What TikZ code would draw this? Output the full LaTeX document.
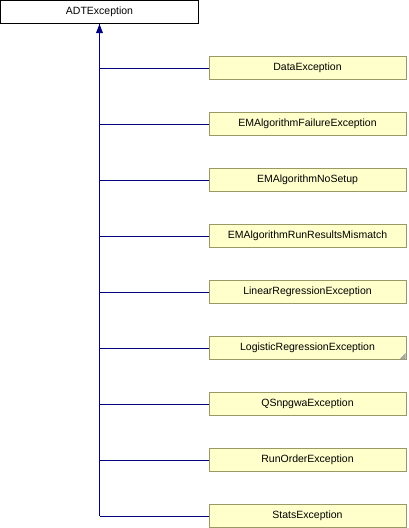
\documentclass[tikz,border=0pt]{standalone}
\usepackage{fontspec}
\setmainfont{Liberation Sans}
\definecolor{boxborder}{RGB}{153,153,102}
\definecolor{boxfill}{RGB}{255,255,204}
\definecolor{connblue}{RGB}{0,0,128}
\begin{document}
\begin{tikzpicture}[x=1pt,y=-1pt,
  parentbox/.style={draw=black,line width=1pt,fill=white,minimum width=198pt,minimum height=23pt,inner sep=0pt,font=\fontsize{10.5}{12}\selectfont},
  childbox/.style={draw=boxborder,line width=1pt,fill=boxfill,minimum width=197pt,minimum height=23pt,inner sep=0pt,font=\fontsize{10.5}{12}\selectfont},
  conn/.style={draw=connblue,line width=0.9pt}]
\useasboundingbox (0,0) rectangle (408,528);
\node[parentbox] (p) at (99.5,12) {ADTException};
\foreach \n/\t [count=\i from 0] in {c1/DataException,c2/EMAlgorithmFailureException,c3/EMAlgorithmNoSetup,c4/EMAlgorithmRunResultsMismatch,c5/LinearRegressionException,c6/LogisticRegressionException,c7/QSnpgwaException,c8/RunOrderException,c9/StatsException}{
  \node[childbox] (\n) at (307.5,{68+56*\i}) {\t};
  \coordinate (j\n) at (99.5,{68+56*\i});
  \draw[conn] (j\n) -- (\n.west);
}
\draw[conn] (jc9) -- (p.south);
\fill[connblue] (p.south) -- ++(-3.5,9) -- ++(7,0) -- cycle;
\fill[gray!70] (c6.south east) ++(-1,-1) -- ++(0,-6) -- ++(-6,6) -- cycle;
\end{tikzpicture}
\end{document}
